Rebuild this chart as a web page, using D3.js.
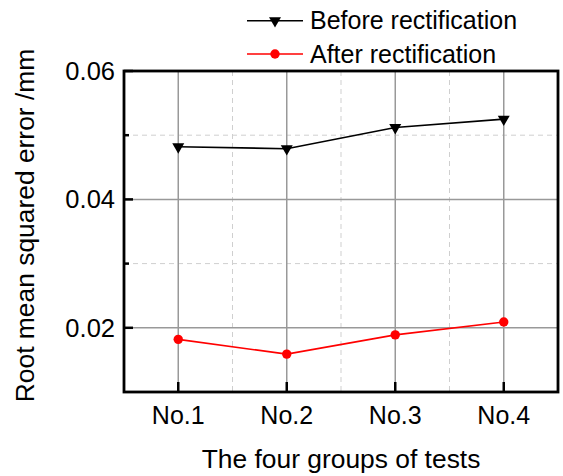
<!DOCTYPE html>
<html>
<head>
<meta charset="utf-8">
<script src="https://cdn.jsdelivr.net/npm/d3@7"></script>
<style>
  html, body { margin: 0; padding: 0; background: #fff; }
  svg { display: block; font-family: "Liberation Sans", Arial, sans-serif; }
</style>
</head>
<body>
<svg id="chart" width="563" height="476"></svg>
<script>
// Test groups on the x axis
const categories = ["No.1", "No.2", "No.3", "No.4"];
// RMSE values (mm)
const beforeValues = [0.0482, 0.0479, 0.0512, 0.0525];
const afterValues = [0.0182, 0.0159, 0.0189, 0.0209];
// Axis ticks
const yMajorTicks = [0.02, 0.04, 0.06];
const yMinorTicks = [0.03, 0.05];
const yTickLabels = ["0.02", "0.04", "0.06"];
const seriesNames = ["Before rectification", "After rectification"];

const svg = d3.select("#chart");
const frame = { left: 124, right: 558, top: 71, bottom: 392 };

const x = d3.scaleLinear().domain([0.5, 4.5]).range([frame.left, frame.right]);
const y = d3.scaleLinear().domain([0.01, 0.06]).range([frame.bottom, frame.top]);
const idx = categories.map((_, i) => i + 1);

// Minor (dashed) grid
const grid = svg.append("g");
grid.selectAll(".vminor").data([1.5, 2.5, 3.5]).join("line")
  .attr("x1", d => x(d)).attr("x2", d => x(d))
  .attr("y1", frame.top).attr("y2", frame.bottom)
  .attr("stroke", "#cfcfcf").attr("stroke-width", 1).attr("stroke-dasharray", "5,4");
grid.selectAll(".hminor").data(yMinorTicks).join("line")
  .attr("x1", frame.left).attr("x2", frame.right)
  .attr("y1", d => y(d)).attr("y2", d => y(d))
  .attr("stroke", "#cfcfcf").attr("stroke-width", 1).attr("stroke-dasharray", "5,4");
// Major (solid) grid
grid.selectAll(".vmajor").data(idx).join("line")
  .attr("x1", d => x(d)).attr("x2", d => x(d))
  .attr("y1", frame.top).attr("y2", frame.bottom)
  .attr("stroke", "#999").attr("stroke-width", 1.5);
grid.selectAll(".hmajor").data([0.02, 0.04]).join("line")
  .attr("x1", frame.left).attr("x2", frame.right)
  .attr("y1", d => y(d)).attr("y2", d => y(d))
  .attr("stroke", "#999").attr("stroke-width", 1.5);

// Inward ticks
const ticks = svg.append("g").attr("stroke", "#000").attr("stroke-width", 2.5);
ticks.selectAll(".ymaj").data(yMajorTicks).join("line")
  .attr("x1", frame.left).attr("x2", frame.left + 9)
  .attr("y1", d => y(d)).attr("y2", d => y(d));
ticks.selectAll(".ymin").data(yMinorTicks).join("line")
  .attr("x1", frame.left).attr("x2", frame.left + 5)
  .attr("y1", d => y(d)).attr("y2", d => y(d));
ticks.selectAll(".xmaj").data(idx).join("line")
  .attr("x1", d => x(d)).attr("x2", d => x(d))
  .attr("y1", frame.bottom).attr("y2", frame.bottom - 10);

// Series lines
const line = d3.line().x((d, i) => x(i + 1)).y(d => y(d));
svg.append("path").datum(beforeValues).attr("d", line)
  .attr("fill", "none").attr("stroke", "#000").attr("stroke-width", 1.6);
svg.append("path").datum(afterValues).attr("d", line)
  .attr("fill", "none").attr("stroke", "#ff0000").attr("stroke-width", 1.6);

const tri = d3.symbol().type(d3.symbolTriangle).size(62);
svg.selectAll(".tri").data(beforeValues).join("path")
  .attr("d", tri)
  .attr("transform", (d, i) => `translate(${x(i + 1)},${y(d)}) rotate(180)`)
  .attr("fill", "#000");
svg.selectAll(".dot").data(afterValues).join("circle")
  .attr("cx", (d, i) => x(i + 1)).attr("cy", d => y(d)).attr("r", 4.7)
  .attr("fill", "#ff0000");

// Frame
svg.append("rect")
  .attr("x", frame.left).attr("y", frame.top)
  .attr("width", frame.right - frame.left).attr("height", frame.bottom - frame.top)
  .attr("fill", "none").attr("stroke", "#000").attr("stroke-width", 2.8);

// Tick labels
svg.selectAll(".ylab").data(yMajorTicks).join("text")
  .attr("x", 115).attr("y", d => y(d)).attr("dy", "0.35em")
  .attr("text-anchor", "end").attr("font-size", 25.5)
  .text((d, i) => yTickLabels[i]);
svg.selectAll(".xlab").data(categories).join("text")
  .attr("x", (d, i) => x(i + 1)).attr("y", 424)
  .attr("text-anchor", "middle").attr("font-size", 25)
  .text(d => d);

// Axis titles
svg.append("text")
  .attr("x", (frame.left + frame.right) / 2).attr("y", 468)
  .attr("text-anchor", "middle").attr("font-size", 26.4)
  .text("The four groups of tests");
svg.append("text")
  .attr("transform", `translate(34,225.5) rotate(-90)`)
  .attr("text-anchor", "middle").attr("font-size", 26.4)
  .text("Root mean squared error /mm");

// Legend
const legend = svg.append("g");
const ly = [20.7, 54];
legend.selectAll(".lline").data(ly).join("line")
  .attr("x1", 247).attr("x2", 303)
  .attr("y1", d => d).attr("y2", d => d)
  .attr("stroke", (d, i) => i === 0 ? "#000" : "#ff0000").attr("stroke-width", 1.6);
legend.append("path").attr("d", tri)
  .attr("transform", `translate(275,${ly[0]}) rotate(180)`).attr("fill", "#000");
legend.append("circle").attr("cx", 275).attr("cy", ly[1]).attr("r", 4.7).attr("fill", "#ff0000");
legend.selectAll(".ltext").data(seriesNames).join("text")
  .attr("x", 310).attr("y", (d, i) => ly[i]).attr("dy", "0.35em")
  .attr("font-size", 25)
  .text(d => d);
</script>
</body>
</html>
